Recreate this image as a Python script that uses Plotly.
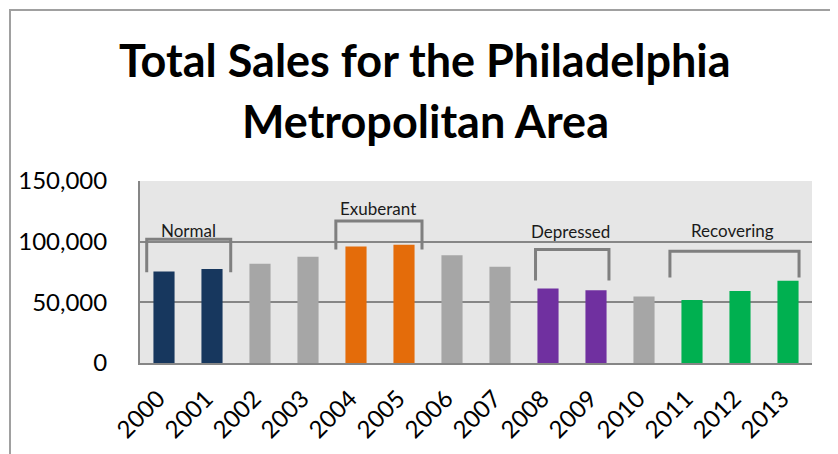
import plotly.graph_objects as go

years = [str(y) for y in range(2000, 2014)]
sales = [75500, 77500, 81800, 87500, 96000, 97400, 88800, 79300,
         61300, 59900, 54900, 52000, 59400, 67700]
bar_colors = ["#17375e", "#17375e", "#a6a6a6", "#a6a6a6", "#e46c0a", "#e46c0a",
              "#a6a6a6", "#a6a6a6", "#7030a0", "#7030a0", "#a6a6a6",
              "#00b050", "#00b050", "#00b050"]
y_ticks = [0, 50000, 100000, 150000]
y_tick_text = ["0", "50,000", "100,000", "150,000"]

title_lines = ["Total Sales for the Philadelphia", "Metropolitan Area"]

phase_names = ["Normal", "Exuberant", "Depressed", "Recovering"]
bracket_left = [-0.36, 3.58, 7.74, 10.54]
bracket_right = [1.39, 5.375, 9.27, 13.23]
bracket_top = [101900, 117100, 93600, 92000]
bracket_bottom = [74800, 93600, 67950, 70400]
label_x = [0.5, 4.46, 8.46, 11.85]
label_y = [109400, 127600, 108600, 109400]

FONT = "Lato, 'Open Sans', sans-serif"

# page offset (default HTML body margin)
OFF = 8
W, H = 838, 454
# plot area on the page: x 140..812, y 181..363
ML = 140 - OFF
MT = 181 - OFF
MR = W - (812 - OFF)
MB = H - (363 - OFF)
PH = H - MT - MB
PW = W - ML - MR


def py(pix):  # page pixel y -> paper y
    return (H - MB - (pix - OFF)) / PH


def px(pix):  # page pixel x -> paper x
    return ((pix - OFF) - ML) / PW


fig = go.Figure()
fig.add_trace(go.Bar(x=years, y=sales, marker=dict(color=bar_colors, line=dict(width=0)),
                     width=0.44, hoverinfo="x+y"))

shapes = []
annotations = []
for name, xl, xr, yt, yb, lx, ly in zip(phase_names, bracket_left, bracket_right,
                                          bracket_top, bracket_bottom, label_x, label_y):
    shapes.append(dict(type="path", xref="x", yref="y",
                       path=f"M {xl},{yb} L {xl},{yt} L {xr},{yt} L {xr},{yb}",
                       line=dict(color="#7f7f7f", width=3)))
    annotations.append(dict(x=lx, y=ly, xref="x", yref="y", text=name, showarrow=False,
                            font=dict(family=FONT, size=17, color="#1a1a1a")))

for line, ypix in zip(title_lines, [60, 121]):
    annotations.append(dict(x=px(425), y=py(ypix), xref="paper", yref="paper",
                            xanchor="center", yanchor="middle", showarrow=False,
                            text=f"<b>{line}</b>",
                            font=dict(family=FONT, size=45, color="black")))

# outer chart frame (top and left edges visible)
shapes.append(dict(type="path", xref="paper", yref="paper",
                   path=f"M {px(10)},{py(480)} L {px(10)},{py(10)} L {px(870)},{py(10)}",
                   line=dict(color="#a0a0a0", width=2)))

fig.update_layout(
    width=W, height=H,
    margin=dict(l=ML, r=MR, t=MT, b=MB, autoexpand=False),
    paper_bgcolor="white", plot_bgcolor="#e6e6e6",
    showlegend=False,
    shapes=shapes, annotations=annotations,
)
fig.update_xaxes(type="category", tickangle=-45, showgrid=False, showline=True,
                 linecolor="#868686", linewidth=2, ticks="", automargin=False,
                 ticklabelstandoff=10, ticklabelshift=-6,
                 tickfont=dict(family=FONT, size=24, color="black"))
fig.update_yaxes(range=[0, 150000], tickvals=y_ticks, ticktext=y_tick_text,
                 showgrid=True, gridcolor="#868686", gridwidth=2,
                 showline=True, linecolor="#868686", linewidth=2, ticks="",
                 zeroline=False, ticklabelstandoff=26, automargin=False,
                 tickfont=dict(family=FONT, size=24, color="black"))

fig.write_html("out.html")
